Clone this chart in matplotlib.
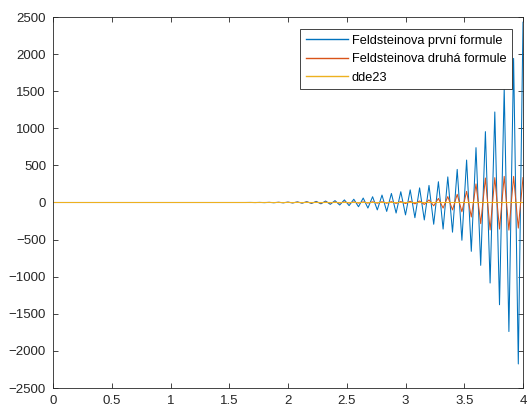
import numpy as np
import matplotlib
matplotlib.use("Agg")
import matplotlib.pyplot as plt

# sample times of the two Feldstein formulas (step 0.04 from 0 to 4)
t = np.linspace(0, 4, 101)

# Feldsteinova první formule
prvni = [
    0, 0, 0, 0, 0, 0, 0, 0, 0, 0,          # 0.00 - 0.36
    0, 0, 0, 0, 0, 0, 0, 0, 0, 0,          # 0.40 - 0.76
    0, 0, 0, 0, 0, 0, 0, 0, 0, 0,          # 0.80 - 1.16
    0, 0, 0, 0, 0, 0, 0, 0, 0, 0,          # 1.20 - 1.56
    0, 0, 1, -1, 1.5, -2, 2, -3, 3, -4,    # 1.60 - 1.96
    5, -6, 8, -9, 11, -13, 15, -18, 20, -25,          # 2.00 - 2.36
    25, -34, 35, -42, 44, -57, 60, -75, 78, -100,     # 2.40 - 2.76
    100, -120, 122, -142, 145, -167, 170, -205, 197, -235,   # 2.80 - 3.16
    230, -293, 280, -358, 345, -400, 446, -509, 572, -658,   # 3.20 - 3.56
    739, -847, 955, -1085, 1220, -1378, 1540, -1739, 1942, -2176,  # 3.60 - 3.96
    2430,                                   # 4.00
]

# Feldsteinova druhá formule
druha = [
    0, 0, 0, 0, 0, 0, 0, 0, 0, 0,
    0, 0, 0, 0, 0, 0, 0, 0, 0, 0,
    0, 0, 0, 0, 0, 0, 0, 0, 0, 0,
    0, 0, 0, 0, 0, 0, 0, 0, 0, 0,
    0, 0, 0, 0, 0, 0, 1, -1, 2, -2,
    3, -3, 4, -4, 5, -5, 5, -6, 6, -6,
    6, -7, 7, -7, 7, -8, 8, -8, 9, -9,
    10, -10, 11, -12, 13, -14, 16, -18, 20, -26,
    35, -45, 55, -75, 80, -100, 110, -125, 150, -195,
    250, -285, 330, -370, 335, -358, 352, -372, 352, -345,
    335,
]

# dde23 solution (flat at zero on this scale)
dde_t = [0, 0.5, 1, 1.5, 2, 2.5, 3, 3.5, 4]
dde_y = [0, 0, 0, 0, 0, 0, 0, 0, 0]

labels = ["Feldsteinova první formule", "Feldsteinova druhá formule", "dde23"]
colors = ["#0072BD", "#D95319", "#EDB120"]
xticks = [0, 0.5, 1, 1.5, 2, 2.5, 3, 3.5, 4]
xticklabels = ["0", "0.5", "1", "1.5", "2", "2.5", "3", "3.5", "4"]
yticks = [-2500, -2000, -1500, -1000, -500, 0, 500, 1000, 1500, 2000, 2500]

plt.rcParams['font.family'] = ['Liberation Sans', 'DejaVu Sans']

fig = plt.figure(figsize=(5.28, 4.15), dpi=100)
ax = fig.add_axes([53/528, 1 - 388/415, 470/528, 371/415])

ax.plot(t, prvni, color=colors[0], lw=0.75, label=labels[0])
ax.plot(t, druha, color=colors[1], lw=0.75, label=labels[1])
ax.plot(dde_t, dde_y, color=colors[2], lw=0.75, label=labels[2])

ax.set_xlim(0, 4)
ax.set_ylim(-2500, 2500)
ax.set_xticks(xticks)
ax.set_xticklabels(xticklabels)
ax.set_yticks(yticks)

axcol = "#262626"
for s in ax.spines.values():
    s.set_color(axcol)
    s.set_linewidth(0.6)
ax.tick_params(direction="in", length=3.5, width=0.6, color=axcol,
               labelcolor=axcol, labelsize=9.5, top=True, right=True)
ax.tick_params(axis="x", pad=5)
ax.tick_params(axis="y", pad=5)

leg = ax.legend(loc="upper right", bbox_to_anchor=(0.9766, 0.9677),
                borderaxespad=0, fancybox=False, framealpha=1,
                edgecolor=axcol, fontsize=9.2, handlelength=3.3,
                handletextpad=0.3, labelspacing=0.5, borderpad=0.45)
leg.get_frame().set_linewidth(0.6)
for line in leg.get_lines():
    line.set_linewidth(1.0)
for txt in leg.get_texts():
    txt.set_color("#000000")

fig.savefig("out.png", dpi=100)
